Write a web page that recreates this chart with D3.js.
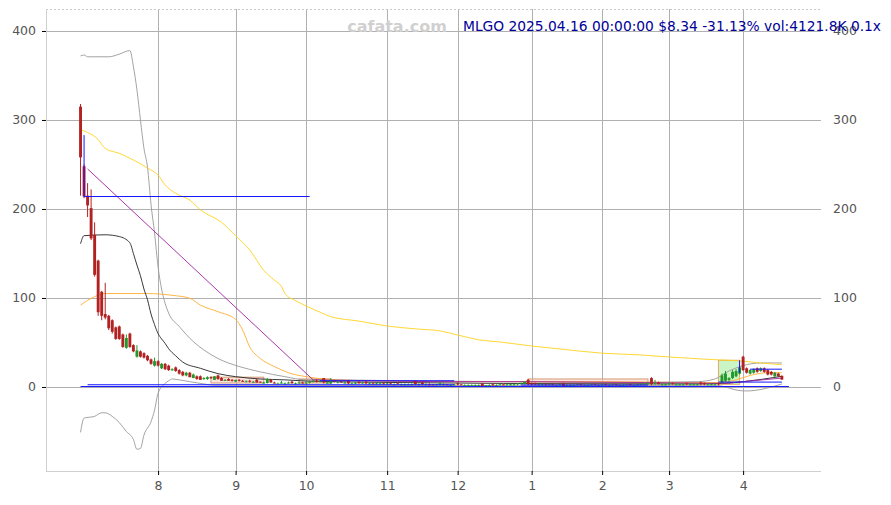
<!DOCTYPE html>
<html><head><meta charset="utf-8">
<script src="https://cdn.jsdelivr.net/npm/d3@7"></script>
<style>body{margin:0;background:#fff;} svg{display:block;font-family:"DejaVu Sans",sans-serif;}</style>
</head><body><svg id="c" width="891" height="505"></svg>
<script>
// ---- data (index = trading day since 2024-07-01) ----
const monthTickIdx = [22, 44, 64, 87, 107, 128, 148, 167, 188];
const monthTickLabels = ["8", "9", "10", "11", "12", "1", "2", "3", "4"];
const yTicks = [0, 100, 200, 300, 400];
const titleText = "MLGO 2025.04.16 00:00:00 $8.34 -31.13% vol:4121.8K 0.1x";

const open = [315,248,215,201,171,142,107,82,80,75,67,68,59,44,60,47,34,40,38,35,
31,24,29,21,26,24,19,22,19,17,13,16,10,12,12,9,9,11,8,13,
10,8,9,8,6,8,7,6,7,6,8,6,5,4.5,8,5,4,5,4,5,
6,4,5,5,5,5,6,7,6,10,5,4,7,5,6,5,7,4,4,6,
5,6,4,4,4,4,4,3,4,3,4,3,3,3,3,7,3,5,3,3,
3,2,2,3,3,2,2,4,3,2,2,2,2,2,4,2,2,3,2,2,
3,2,3,3,3,4,3,8,4,4,3,3,3,2,3,2,2,4,2,2,
2,2,3,2,2,2,3,2,2,3,2,2,3,2,2,2,3,2,2,3,
3,4,10,4,5,3,3,3,4,3,3,3,4,3,3,3,5,4,3,3,
3,4,5,7,8,10,12,15,34,21,15,16,21,18,21,19,17,12,15,12.5];
const high = [318,250,229,222,185,143,108,117,81,76,68,69,60,59,61,48,47,41,39,36,
32,33,30,27,27,25,21,23,20,18,17,17,15,13,13,11,12,12,12,14,
11,9,10,9,8,9,8,7,8,7,9,6,6,10,9,6,5,7,5,6,
7,5,6,6,6,7,8,9,8,10,6,10,8,7,7,6,8,5,6,6,
6,7,5,5,5,5,5,4,5,4,5,4,4,4,4,7,4,6,4,4,
3,3,5,4,3,3,3,5,3,3,3,3,3,3,4,2,3,4,3,3,
3,3,4,4,4,5,6,9,5,5,4,4,3,3,3,3,3,5,3,3,
3,3,3,3,3,3,3,3,3,3,3,3,3,3,3,3,3,3,3,4,
4,5,11,8,6,4,4,5,5,4,4,4,5,4,4,4,6,5,4,4,
4,5,15,18,11,19,20,24,35,22,20,21,22,22,22,20,18,17,16,13];
const low = [215,212,191,165,124,80,75,76,64,60,53,53,44,43,44,39,33,33,32,29,
25,23,23,20,19,18,18,17,14,12,12,11,10,8,8,8,8,9,8,8,
7,7,7,6,6,6,6,5,5,5,5,5,4,4,5,4,4,4,3,4,
4,3,4,4,4,4,5,5,5,4,4,3,5,4,5,4,3,3,3,4,
4,3,3,3,3,3,3,3,3,3,3,2,2,3,2,2,2,2,2,2,
2,2,2,2,2,2,2,2,2,2,1,2,1,1,1,1,1,1,1,2,
2,2,2,2,2,3,3,2,2,2,2,2,2,2,2,2,2,0.5,1,1,
2,2,2,2,2,2,2,2,2,2,2,2,2,2,2,2,2,2,2,2,
2,3,2,3,3,2,2,2,3,2,2,2,2,2,2,2,2,2,2,2,
2,2,3,6,6,9,11,14,18,15,14,15,16,17,16,13,13,11,11,8];
const close = [258,214,204,167,126,84,80,78,66,62,54,54,45,55,45,40,41,34,33,30,
26,29,24,26,20,19,20,18,15,13,16,11,14,9,8,10,11,10,12,9,
7,8,7,7,8,7,6,7,6,6,5,5,5,9,5,4,4,5,4,5,
4,4,5,4,5,6,7,6,7,5,5,8,6,6,5,5,4,4,5,4,
5,4,4,3,4,4,3,4,3,3,3,3,3,3,3,3,3,3,3,2,
2,3,4,3,2,2,3,3,2,2,2,2,2,2,1,2,2,2,2,3,
2,3,3,3,4,4,6,3,3,3,3,3,2,3,2,2,3,1,2,2,
2,3,2,2,2,3,2,2,3,2,2,3,2,2,2,3,2,2,3,3,
4,4,3,4,3,3,3,4,3,3,3,3,3,3,3,3,3,3,3,3,
3,3,13,15,10,17,18,22,19,16,19,20,17,21,17,14,14,16,12.11,8.34];

// overlay lines: trading-day index + value
const upperIdx = [0,1,2,4,8,11,14,15,16,17,18,19,20,21,22,23,24,25,28,32,35,39,45,51,58,64,71,90,120,150,175,180,184,188,193,199];
const upperVal = [372,373,371,371,371,374,378,360,334,300,268,247,205,173,135,110,94,83,68,51,41.6,32,23,17,11.6,8,8,7,6,5,6,9,18,24,27,27];
const lowerIdx = [0,1,4,6,7,9,11,13,15,16,17,18,20,21,22,24,25,26,28,31,35,38,45,60,100,150,180,183,186,189,194,199];
const lowerVal = [-51,-35,-33,-29,-29,-33,-40,-50,-59,-70,-69,-54,-39,-26,-7,4,7,9,8,6,3.4,2,2,2,1.5,1.5,2,0,-3.4,-4.5,-2,3.4];
const midIdx = [0,1,7,11,14,15,16,17,18,19,20,21,22,23,24,25,27,29,34,39,44,51,58,64,71,90,120,150,175,182,188,199];
const midVal = [161,170,171,169,162,150,137,125,110,98,82,70,60,54,49,43,35,28,21,15,11.6,9,8,6.7,6,5,4,3.5,3.5,4,6,12];
const goldIdx = [0,2,5,7,11,15,19,22,24,27,31,34,40,44,48,52,55,57,58,59,60,64,68,71,79,87,96,102,107,113,119,128,136,148,159,167,176,181,188,193,199];
const goldVal = [289,286,278,268,262.5,255,246,238,227,217.6,210,199,185,170,154,131,120,113,105,101,99,91,84,79,74,68.5,65,63,58.4,53,50.6,46,42.7,38,36,33.7,31.5,30.5,29,27,25];
const orangeIdx = [0,4,7,19,26,31,34,39,44,46,48,51,55,59,64,69,80,100,128,150,170,180,186,190,195,199];
const orangeVal = [92,101.5,105,105,103,99.7,92,84.6,76,64,45,32,23,16,11.6,9,7,6,6,6,5,5,8,13,16,16];
const purpleIdx = [2,66,100,128,160,183,188,199];
const purpleVal = [245,8,6,6,5,4,6,10];

// blue guide segments [idx0, val0, idx1, val1]
const blueSegs = [
  [1,283,1,214],[1,214,65,214],
  [2,2.5,106,2.5],[0,0.5,201,0.5],[68,7,106,7],[125,2.2,161,2.2],
  [187,30,187,16],[190,20,199,20],[181,5.5,199,5.5]
];
// boxes [idx0, idx1, vLow, vHigh]
const salmonBoxes = [[37,52,4.5,11],[62,71,4.5,9],[127,161,3.4,9]];
const greenBoxes = [[181,187,3,30]];

// ---- drawing ----
const svg = d3.select("#c");
const L = 46, R = 821, T = 9, B = 471;
const x = d3.scaleLinear().domain([-9.8, 210.1]).range([L, R]);
const y = d3.scaleLinear().domain([-94.4, 424.7]).range([B, T]);

// grid
svg.append("g").selectAll("line").data(monthTickIdx).join("line")
  .attr("x1", d => Math.round(x(d)) + 0.5).attr("x2", d => Math.round(x(d)) + 0.5)
  .attr("y1", T).attr("y2", B).attr("stroke", "#b0b0b0").attr("stroke-width", 1);
svg.append("g").selectAll("line").data(yTicks).join("line")
  .attr("x1", L).attr("x2", R)
  .attr("y1", d => Math.round(y(d)) + 0.5).attr("y2", d => Math.round(y(d)) + 0.5)
  .attr("stroke", "#b0b0b0").attr("stroke-width", 1);

// spines
svg.append("line").attr("x1", L).attr("x2", R).attr("y1", T + 0.5).attr("y2", T + 0.5)
  .attr("stroke", "#c8c8c8").attr("stroke-dasharray", "2,2");
svg.append("line").attr("x1", L + 0.5).attr("x2", L + 0.5).attr("y1", T).attr("y2", B)
  .attr("stroke", "#d0d0d0");
svg.append("line").attr("x1", L).attr("x2", R).attr("y1", B + 0.5).attr("y2", B + 0.5)
  .attr("stroke", "#d0d0d0");

// axes
const yAxisL = d3.axisLeft(y).tickValues(yTicks).tickSize(4).tickPadding(6);
const gl = svg.append("g").attr("transform", `translate(${L},0)`).call(yAxisL);
gl.select(".domain").remove();
gl.selectAll("text").attr("fill", "#555").style("font-size", "12.5px").style("font-family", "DejaVu Sans");
gl.selectAll("line").attr("stroke", "#000");

const yAxisR = d3.axisRight(y).tickValues(yTicks).tickSize(0).tickPadding(12);
const gr = svg.append("g").attr("transform", `translate(${R},0)`).call(yAxisR);
gr.select(".domain").remove();
gr.selectAll("text").attr("fill", "#555").style("font-size", "12.5px").style("font-family", "DejaVu Sans");

const xAxis = d3.axisBottom(x).tickValues(monthTickIdx).tickFormat((d, i) => monthTickLabels[i]).tickSize(4).tickPadding(6);
const gx = svg.append("g").attr("transform", `translate(0,${B})`).call(xAxis);
gx.select(".domain").remove();
gx.selectAll("text").attr("fill", "#555").style("font-size", "12.5px").style("font-family", "DejaVu Sans");
gx.selectAll("line").attr("stroke", "#000");

// watermark + title
svg.append("text").attr("x", 397).attr("y", 32).attr("text-anchor", "middle")
  .style("font-size", "16px").style("font-weight", "bold").attr("fill", "#d0d0d0").text("cafata.com");
svg.append("text").attr("x", 463).attr("y", 31)
  .style("font-size", "13.8px").attr("fill", "#000099").text(titleText);

// boxes
const plot = svg.append("g");
plot.selectAll("rect.sb").data(salmonBoxes).join("rect").attr("class", "sb")
  .attr("x", d => x(d[0])).attr("width", d => x(d[1]) - x(d[0]))
  .attr("y", d => y(d[3])).attr("height", d => y(d[2]) - y(d[3]))
  .attr("fill", "#f7c9bb").attr("fill-opacity", 0.5).attr("stroke", "#d49a78").attr("stroke-width", 1);
plot.selectAll("rect.gb").data(greenBoxes).join("rect").attr("class", "gb")
  .attr("x", d => x(d[0])).attr("width", d => x(d[1]) - x(d[0]))
  .attr("y", d => y(d[3])).attr("height", d => y(d[2]) - y(d[3]))
  .attr("fill", "#a6f0a0").attr("fill-opacity", 0.6).attr("stroke", "#e6a866").attr("stroke-width", 1);

// lines
function drawLine(idx, val, color, w) {
  const pts = idx.map((d, i) => [d, val[i]]);
  plot.append("path").datum(pts)
    .attr("d", d3.line().x(d => x(d[0])).y(d => y(d[1])).curve(d3.curveMonotoneX))
    .attr("fill", "none").attr("stroke", color).attr("stroke-width", w);
}
drawLine(upperIdx, upperVal, "#999999", 0.9);
drawLine(lowerIdx, lowerVal, "#999999", 0.9);
drawLine(goldIdx, goldVal, "#ffd21f", 0.9);
drawLine(orangeIdx, orangeVal, "#ffad33", 0.9);
drawLine(midIdx, midVal, "#222222", 0.9);
plot.append("path").datum(purpleIdx.map((d, i) => [d, purpleVal[i]]))
  .attr("d", d3.line().x(d => x(d[0])).y(d => y(d[1])))
  .attr("fill", "none").attr("stroke", "#a020a0").attr("stroke-width", 0.9);

// candles
const idxs = d3.range(close.length);
const bw = (x(1) - x(0)) * 0.82;
const col = i => close[i] >= open[i] ? "#22982a" : "#b22222";
plot.append("g").selectAll("line").data(idxs).join("line")
  .attr("x1", i => x(i)).attr("x2", i => x(i))
  .attr("y1", i => y(high[i])).attr("y2", i => y(low[i]))
  .attr("stroke", col).attr("stroke-width", 1);
plot.append("g").selectAll("rect").data(idxs).join("rect")
  .attr("x", i => x(i) - bw / 2).attr("width", bw)
  .attr("y", i => y(Math.max(open[i], close[i])))
  .attr("height", i => Math.max(1, Math.abs(y(open[i]) - y(close[i]))))
  .attr("fill", col);

// blue guides
plot.selectAll("line.bl").data(blueSegs).join("line").attr("class", "bl")
  .attr("x1", d => x(d[0])).attr("y1", d => y(d[1]))
  .attr("x2", d => x(d[2])).attr("y2", d => y(d[3]))
  .attr("stroke", "#1515ff").attr("stroke-width", 1);
</script></body></html>
